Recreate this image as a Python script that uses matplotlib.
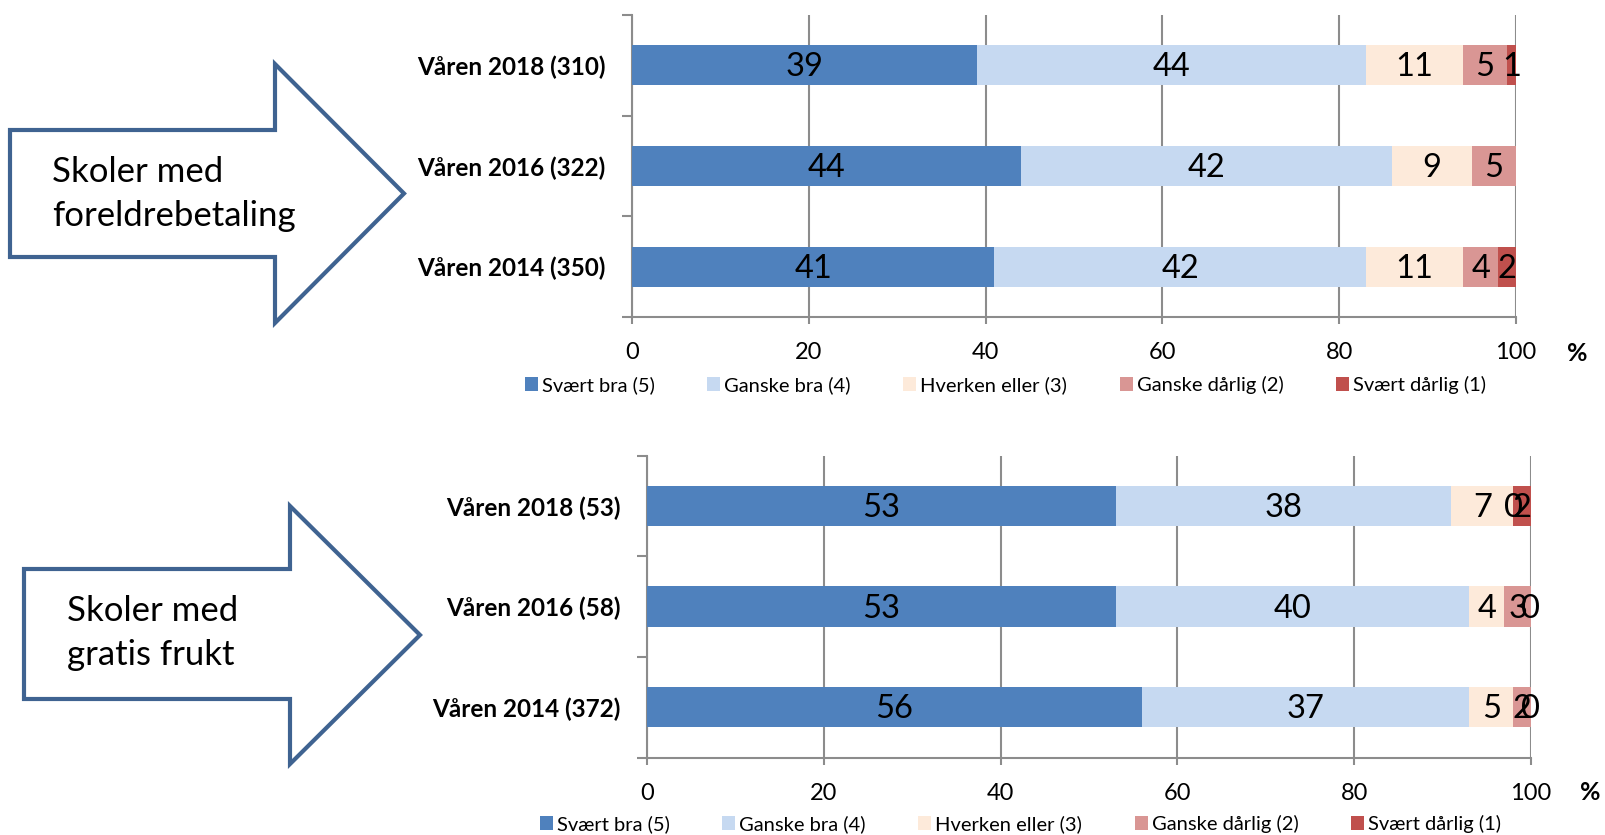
import matplotlib
matplotlib.use("Agg")
import matplotlib.pyplot as plt
from matplotlib.patches import Patch, Polygon
import numpy as np

plt.rcParams['font.family'] = ['Lato', 'DejaVu Sans']

series = ["Svært bra (5)", "Ganske bra (4)", "Hverken eller (3)", "Ganske dårlig (2)", "Svært dårlig (1)"]
colors = ["#4F81BD", "#C6D9F1", "#FDEADA", "#D99694", "#C0504D"]

top_cats = ["Våren 2018 (310)", "Våren 2016 (322)", "Våren 2014 (350)"]
top_svaert_bra = [39, 44, 41]
top_ganske_bra = [44, 42, 42]
top_hverken = [11, 9, 11]
top_ganske_darlig = [5, 5, 4]
top_svaert_darlig = [1, 0.3, 2]

bot_cats = ["Våren 2018 (53)", "Våren 2016 (58)", "Våren 2014 (372)"]
bot_svaert_bra = [53, 53, 56]
bot_ganske_bra = [38, 40, 37]
bot_hverken = [7, 4, 5]
bot_ganske_darlig = [0, 3, 2]
bot_svaert_darlig = [2, 0, 0]

xticks = [0, 20, 40, 60, 80, 100]

W, H = 1605, 835
fig = plt.figure(figsize=(W / 100, H / 100), dpi=100)

GRID = "#8C8C8C"


def panel(rect, cats, data, show_zero, legend_anchor, pct_pos):
    ax = fig.add_axes(rect)
    y = np.arange(len(cats))
    left = np.zeros(len(cats))
    for vals, col, name in zip(data, colors, series):
        vals = np.array(vals, dtype=float)
        ax.barh(y, vals, left=left, height=0.4, color=col, label=name, zorder=3)
        for yi, (l, v) in enumerate(zip(left, vals)):
            if v < 0.5 and not show_zero and v > 0:
                continue
            ax.text(l + v / 2, yi + 0.02, f"{v:.0f}", ha="center", va="center",
                    fontsize=23.5, color="black", zorder=5)
        left += vals
    ax.set_xlim(0, 100)
    ax.set_ylim(len(cats) - 0.5, -0.5)
    ax.set_xticks(xticks)
    ax.set_xticklabels([str(t) for t in xticks], fontsize=17)
    ax.set_yticks(y)
    ax.set_yticklabels(cats, fontsize=17.5, fontweight="bold")
    ax.set_yticks(np.arange(-0.5, len(cats), 1.0), minor=True)
    ax.tick_params(axis="y", which="major", length=0, pad=19)
    ax.tick_params(axis="y", which="minor", length=7, width=1.5, color=GRID)
    ax.tick_params(axis="x", which="major", length=5, width=1.5, color=GRID, pad=13)
    ax.set_axisbelow(True)
    ax.grid(axis="x", color=GRID, linewidth=1.5, zorder=0)
    for s in ["top", "right"]:
        ax.spines[s].set_visible(False)
    for s in ["left", "bottom"]:
        ax.spines[s].set_color(GRID)
        ax.spines[s].set_linewidth(1.5)
    handles = [Patch(facecolor=c) for c in colors]
    fig.legend(handles, series, loc="center left", bbox_to_anchor=legend_anchor,
               ncol=5, frameon=False, fontsize=14.5, handlelength=0.65,
               handleheight=0.65, handletextpad=0.2, columnspacing=2.6, borderpad=0,
               borderaxespad=0)
    fig.text(pct_pos[0] / W, 1 - pct_pos[1] / H, "%", fontsize=18, fontweight="bold",
             ha="center", va="center")
    return ax


top_data = [top_svaert_bra, top_ganske_bra, top_hverken, top_ganske_darlig, top_svaert_darlig]
bot_data = [bot_svaert_bra, bot_ganske_bra, bot_hverken, bot_ganske_darlig, bot_svaert_darlig]

panel([632 / W, 1 - 317 / H, 884 / W, 302 / H], top_cats, top_data, False,
      (525 / W, 1 - 385 / H), (1577, 353))
panel([647 / W, 1 - 757.5 / H, 884 / W, 302 / H], bot_cats, bot_data, True,
      (540 / W, 1 - 824 / H), (1590, 793))

# Decorative arrows (figure pixel overlay)
ov = fig.add_axes([0, 0, 1, 1], zorder=-1)
ov.set_xlim(0, W)
ov.set_ylim(H, 0)
ov.axis("off")

ARROW = "#3F6391"


def arrow(x0, x1, ytop, ybot, hy_top, tip_x, hy_bot, lines, tx, ty):
    ymid = (hy_top + hy_bot) / 2
    pts = [(x0, ytop), (x1, ytop), (x1, hy_top), (tip_x, ymid), (x1, hy_bot),
           (x1, ybot), (x0, ybot)]
    ov.add_patch(Polygon(pts, closed=True, facecolor="white", edgecolor=ARROW,
                         linewidth=3, joinstyle="miter"))
    ov.text(tx, ty, lines, fontsize=25, ha="left", va="center", linespacing=1.45)


arrow(10, 275, 130, 257, 64, 404, 323, "Skoler med\nforeldrebetaling", 52, 194)
arrow(24, 290, 569, 699, 506, 420, 764, "Skoler med\ngratis frukt", 67, 633)

fig.savefig("out.png", dpi=100)
